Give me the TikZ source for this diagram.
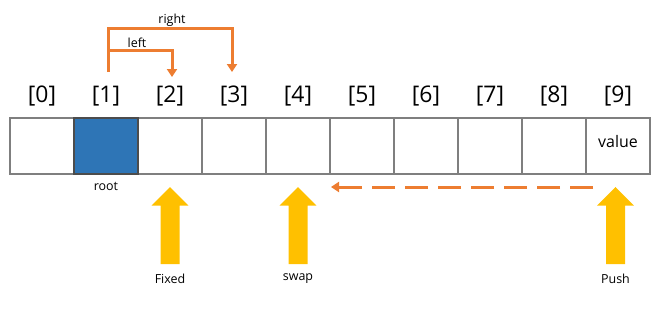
\documentclass[tikz,border=0pt]{standalone}
\usepackage{fontspec}
\setmainfont{Open Sans}
\usetikzlibrary{arrows.meta}
\definecolor{orng}{HTML}{ED7D31}
\definecolor{ylw}{HTML}{FFC000}
\definecolor{blu}{HTML}{2E75B6}
\definecolor{grd}{HTML}{7F7F7F}
\tikzset{
  cell/.style={draw=grd, line width=1.4bp, minimum width=64bp, minimum height=56bp, inner sep=0pt, font=\fontsize{16}{18}\selectfont},
  idx/.style={inner sep=0pt, font=\fontsize{23}{26}\selectfont},
  small/.style={inner sep=0pt, font=\fontsize{12.5}{14}\selectfont},
  conn/.style={draw=orng, line width=3bp, -{Triangle[width=10bp,length=8bp]}},
  dconn/.style={conn, dash pattern=on 23bp off 10bp},
  blockarrow/.style={fill=ylw}
}
\begin{document}
\begin{tikzpicture}[x=1bp,y=-1bp]
\useasboundingbox (0,0) rectangle (665,309);
% cells
\foreach \i in {0,...,9} {
  \node[cell] (c\i) at (42+64*\i,146) {};
  \node[idx] (i\i) at (42+64*\i,96) {[\i]};
}
\node[cell, fill=blu, draw=black!70] (c1) at (106,146) {};
\node[cell, draw=none] (v9) at (618,142) {value};
\node[small] (root) at (106,186) {root};
% top connectors
\coordinate (rs) at (108,72);
\coordinate (re) at (232,72);
\coordinate (ls) at (108,50);
\coordinate (le) at (172,77);
\draw[conn] (rs) -- (108,28) -| (re);
\draw[conn] (ls) -| (le);
\node[small] (rlab) at (172,20) {right};
\node[small] (llab) at (137,43) {left};
% dashed connector
\coordinate (ds) at (593,187);
\coordinate (de) at (331,187);
\draw[dconn] (ds) -- (de);
% block arrows
\foreach \x/\n/\t in {170/fixed/Fixed, 298/swap/swap, 615.5/push/Push} {
  \fill[blockarrow] (\x,187) -- (\x+18.3,205.5) -- (\x+9.5,205.5) -- (\x+9.5,264)
     -- (\x-9.5,264) -- (\x-9.5,205.5) -- (\x-18.3,205.5) -- cycle;
  \node[small] (\n) at (\x,279) {\t};
}
\end{tikzpicture}
\end{document}
